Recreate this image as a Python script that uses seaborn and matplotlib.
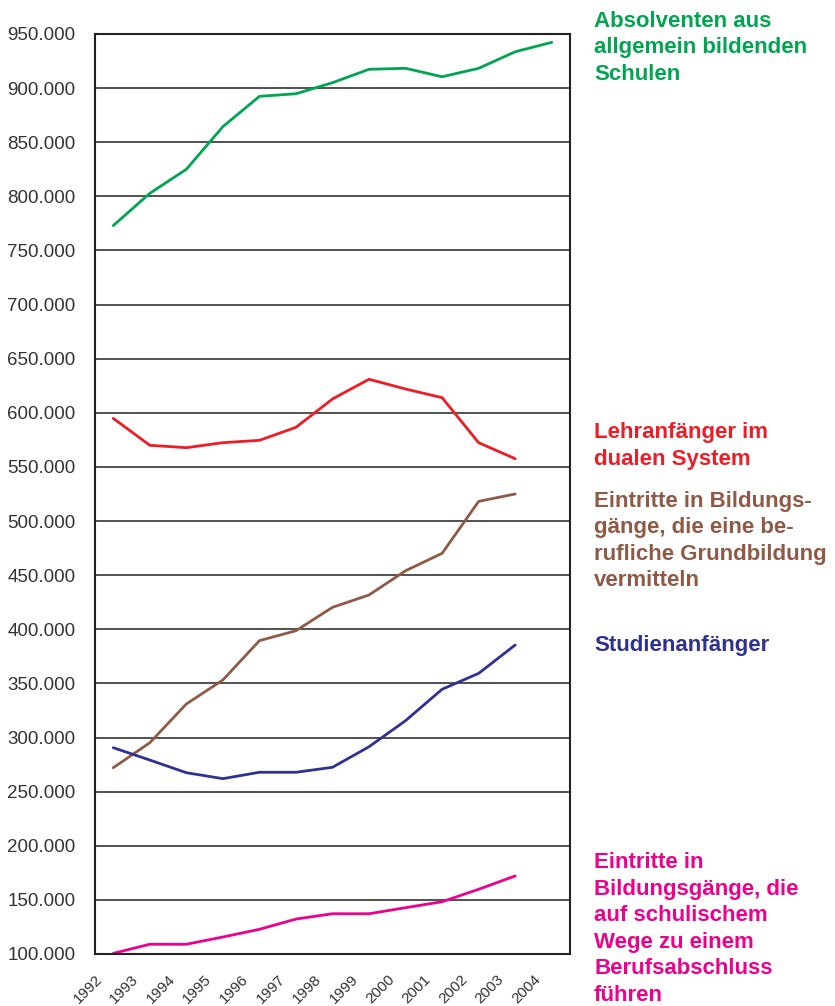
import matplotlib

matplotlib.use("Agg")

import matplotlib.pyplot as plt
import pandas as pd
import seaborn as sns
from matplotlib.ticker import FixedLocator, FuncFormatter

# ── Data ──────────────────────────────────────────────────────────────────────
YEARS = list(range(1992, 2005))

absolventen = [773000, 802800, 825000, 864400, 892400, 894800, 905000,
               917400, 918300, 910500, 918300, 933600, 942300]
lehranfaenger = [594900, 570000, 567800, 572400, 574600, 586600, 612800,
                 631000, 622000, 614000, 572400, 557600]
grundbildung = [272100, 295200, 331000, 353200, 389500, 398700, 420300,
                431700, 454100, 470200, 518200, 525000]
studienanfaenger = [290600, 279200, 267500, 262000, 267900, 267900, 272500,
                    291500, 315600, 344600, 359300, 385500]
schulisch = [100600, 109000, 109000, 115700, 122800, 132300, 137200,
             137200, 142800, 148300, 159800, 172100]

LABELS = {
    "absolventen": "Absolventen aus\nallgemein bildenden\nSchulen",
    "lehranfaenger": "Lehranfänger im\ndualen System",
    "grundbildung": "Eintritte in Bildungs-\ngänge, die eine be-\nrufliche Grundbildung\nvermitteln",
    "studienanfaenger": "Studienanfänger",
    "schulisch": "Eintritte in\nBildungsgänge, die\nauf schulischem\nWege zu einem\nBerufsabschluss\nführen",
}
COLORS = {
    "absolventen": "#00A550",
    "lehranfaenger": "#EE1C25",
    "grundbildung": "#8E5A45",
    "studienanfaenger": "#2E3192",
    "schulisch": "#EC008C",
}
# label block centre (figure pixels from top)
LABEL_Y = {
    "absolventen": 48,
    "lehranfaenger": 446,
    "grundbildung": 541,
    "studienanfaenger": 645,
    "schulisch": 929,
}

series = {
    "absolventen": absolventen,
    "lehranfaenger": lehranfaenger,
    "grundbildung": grundbildung,
    "studienanfaenger": studienanfaenger,
    "schulisch": schulisch,
}

rows = []
for key, vals in series.items():
    for year, v in zip(YEARS, vals):
        rows.append({"Jahr": year, "Wert": v, "Reihe": key})
df = pd.DataFrame(rows)

# ── Plot ──────────────────────────────────────────────────────────────────────
sns.set_style("white")
plt.rcParams["font.family"] = ["Liberation Sans", "DejaVu Sans"]

W, H = 835, 1006
fig = plt.figure(figsize=(W / 100, H / 100), dpi=100)
ax = fig.add_axes([95 / W, 1 - 954 / H, 475 / W, 920 / H])

sns.lineplot(data=df, x="Jahr", y="Wert", hue="Reihe", palette=COLORS,
             linewidth=2, legend=False, ax=ax)

ax.set_xlim(YEARS[0] - 0.5, YEARS[-1] + 0.5)
ax.set_ylim(100000, 950000)
ax.set_yticks(range(100000, 950001, 50000))
ax.yaxis.set_major_formatter(FuncFormatter(lambda v, _: f"{v:,.0f}".replace(",", ".")))
ax.grid(axis="y", color="#333333", linewidth=1.2)
ax.set_axisbelow(True)

# ticks at category boundaries; year labels hang from the left boundary
bounds = [y - 0.5 for y in YEARS] + [YEARS[-1] + 0.5]
ax.xaxis.set_major_locator(FixedLocator(bounds))
ax.set_xticklabels([str(y) for y in YEARS] + [""])
ax.tick_params(axis="x", direction="out", length=6, width=1.2, color="#222222",
               pad=7, labelsize=11, labelcolor="#333333")
for lbl in ax.get_xticklabels():
    lbl.set_rotation(45)
    lbl.set_ha("right")
    lbl.set_va("top")
    lbl.set_rotation_mode("anchor")
ax.tick_params(axis="y", direction="inout", length=12, width=1.2, color="#222222",
               labelsize=13.5, labelcolor="#333333", pad=8)

for side in ["left", "right", "top", "bottom"]:
    ax.spines[side].set_visible(True)
    ax.spines[side].set_color("#222222")
    ax.spines[side].set_linewidth(1.5)

ax.set_xlabel("")
ax.set_ylabel("")

for key, text in LABELS.items():
    fig.text(594 / W, 1 - LABEL_Y[key] / H, text, color=COLORS[key],
             fontsize=16, fontweight="bold", va="center", ha="left",
             linespacing=1.35)

fig.savefig("out.png", dpi=100)
